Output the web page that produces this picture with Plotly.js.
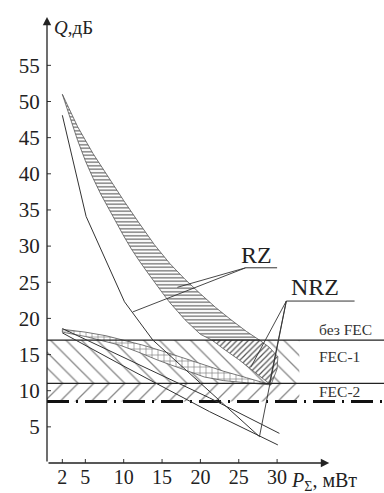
<!DOCTYPE html>
<html><head><meta charset="utf-8">
<script src="https://cdn.plot.ly/plotly-3.0.1.min.js"></script>
<style>html,body{margin:0;padding:0;background:#fff}#c{width:384px;height:493px}</style>
</head><body><div id="c"></div>
<script>
// ---- data ----
const xTicks = [2, 5, 10, 15, 20, 25, 30];
const yTicks = [5, 10, 15, 20, 25, 30, 35, 40, 45, 50, 55];
const levelNames = ['без FEC', 'FEC-1', 'FEC-2'];
const levelQ = [17, 11, 8.5];           // Q thresholds, dB
const fecPmax = 32.9;                    // extent of hatched FEC zones

// RZ band (upper and lower edges)
const rzHiP = [2, 4, 6, 8, 10, 12, 14, 16, 18, 20, 22, 24, 26, 27.7, 29, 30.1, 30.0, 29.2];
const rzHiQ = [51, 46.5, 42.8, 39.5, 36.3, 33.2, 30.2, 27.6, 25.4, 23.4, 21.5, 19.8, 18.2, 17, 16, 14.7, 13, 10.8];
const rzLoP = [2, 3, 4, 5, 6, 7, 8, 9, 10, 11, 12, 13, 14, 15, 16, 17, 18, 19, 20, 21.5, 23, 25, 27, 29.2];
const rzLoQ = [51, 47.8, 44.6, 41.8, 39.4, 37.2, 35.2, 33.3, 31.4, 29.6, 28, 26.5, 25, 23.6, 22.2, 21, 19.8, 18.8, 17.8, 17, 15.8, 14.3, 12.6, 10.8];

// NRZ band
const nrzHiP = [2, 5, 7.7, 10, 12.5, 15, 17.5, 20.5, 23, 26, 29.2];
const nrzHiQ = [18.5, 18.1, 17.6, 17.0, 16.3, 15.5, 14.6, 13.6, 12.7, 11.8, 10.8];
const nrzLoP = [2, 5, 9.5, 12, 14.5, 17, 20.5, 23, 26, 29.2];
const nrzLoQ = [18.1, 17.5, 16.3, 15.3, 14.2, 13.2, 11.9, 11.4, 11.1, 10.8];

// thin curves
const rzLineP = [2, 5.1, 10.1, 13.8, 27.7];
const rzLineQ = [48.1, 34.1, 22.3, 17, 3.65];
const nrzLineAP = [2, 14.3, 21.2, 30.3];
const nrzLineAQ = [18.6, 12.4, 9.0, 4.1];
const nrzLineBP = [2, 10, 21.2, 30.1];
const nrzLineBQ = [18.0, 13.4, 7.1, 2.5];

// callouts: label position, underline, leader targets
const rzLabel = {t: 'RZ', p: 27.3, q: 28.8, u0: 25.9, u1: 30.0, uq: 27.0, tp: [17.0, 11.2], tq: [24.3, 20.9]};
const nrzLabel = {t: 'NRZ', p: 35.0, q: 24.3, u0: 31.2, u1: 40.1, uq: 22.4, tp: [26.6, 29.0, 27.7], tq: [13.3, 11.0, 3.65]};

// ---- build ----
const XMAX = 337 / 7.67, YMAX = 453 / 7.23;
const FONT = 'Liberation Serif';
const traces = [];

// FEC zones
function band(q0, q1, shape) {
  traces.push({x: [0, fecPmax, fecPmax, 0, 0], y: [q0, q0, q1, q1, q0], mode: 'lines', fill: 'toself',
    line: {width: 0}, fillcolor: 'rgba(0,0,0,0)',
    fillpattern: {shape: shape, fgcolor: '#888', bgcolor: 'rgba(0,0,0,0)', size: 11, solidity: 0.12},
    hoverinfo: 'skip', showlegend: false});
}
band(levelQ[1], levelQ[0], '\\');
band(levelQ[2], levelQ[1], '/');

// polygon helpers
function poly(hp, hq, lp, lq, keep) {
  const x = [], y = [];
  hp.forEach((p, i) => { if (keep(hq[i])) { x.push(p); y.push(hq[i]); } });
  for (let i = lp.length - 1; i >= 0; i--) if (keep(lq[i])) { x.push(lp[i]); y.push(lq[i]); }
  x.push(x[0]); y.push(y[0]);
  return {x, y};
}
const rzA = poly(rzHiP, rzHiQ, rzLoP, rzLoQ, q => q >= levelQ[0]);
const rzB = poly(rzHiP, rzHiQ, rzLoP, rzLoQ, q => q <= levelQ[0]);
traces.push({x: rzA.x, y: rzA.y, mode: 'lines', fill: 'toself', line: {width: 0.8, color: '#555'},
  fillcolor: 'white', fillpattern: {shape: '-', fgcolor: '#666', bgcolor: 'white', size: 3.5, solidity: 0.35},
  hoverinfo: 'skip', showlegend: false});
traces.push({x: rzB.x, y: rzB.y, mode: 'lines', fill: 'toself', line: {width: 0.8, color: '#555'},
  fillcolor: 'white', fillpattern: {shape: '/', fgcolor: '#555', bgcolor: 'white', size: 4, solidity: 0.3},
  hoverinfo: 'skip', showlegend: false});
const nz = poly(nrzHiP, nrzHiQ, nrzLoP, nrzLoQ, q => true);
traces.push({x: nz.x, y: nz.y, mode: 'lines', fill: 'toself', line: {width: 0.8, color: '#555'},
  fillcolor: 'white', fillpattern: {shape: '+', fgcolor: '#777', bgcolor: 'white', size: 6, solidity: 0.2},
  hoverinfo: 'skip', showlegend: false});

// level lines
traces.push({x: [0, XMAX], y: [levelQ[0], levelQ[0]], mode: 'lines', line: {color: '#222', width: 1.3}, hoverinfo: 'skip', showlegend: false});
traces.push({x: [0, XMAX], y: [levelQ[1], levelQ[1]], mode: 'lines', line: {color: '#222', width: 1.3}, hoverinfo: 'skip', showlegend: false});
traces.push({x: [0, XMAX], y: [levelQ[2], levelQ[2]], mode: 'lines', line: {color: '#111', width: 3, dash: '22px,7px,2px,7px'}, hoverinfo: 'skip', showlegend: false});

// thin curves
[[rzLineP, rzLineQ], [nrzLineAP, nrzLineAQ], [nrzLineBP, nrzLineBQ]].forEach(([p, q]) =>
  traces.push({x: p, y: q, mode: 'lines', line: {color: '#333', width: 1}, hoverinfo: 'skip', showlegend: false}));

// callout leaders
[rzLabel, nrzLabel].forEach(L => {
  traces.push({x: [L.u1, L.u0], y: [L.uq, L.uq], mode: 'lines', line: {color: '#333', width: 1}, hoverinfo: 'skip', showlegend: false});
  L.tp.forEach((p, i) => traces.push({x: [L.u0, p], y: [L.uq, L.tq[i]], mode: 'lines', line: {color: '#333', width: 0.9}, hoverinfo: 'skip', showlegend: false}));
});

const annotations = [];
// axes with arrows
annotations.push({x: 36.8, y: 0, ax: 0, ay: 0, axref: 'x', ayref: 'y', xref: 'x', yref: 'y', text: '', showarrow: true, arrowhead: 2, arrowsize: 1.3, arrowwidth: 1.3, arrowcolor: '#222'});
annotations.push({x: 0, y: 61.7, ax: 0, ay: 0, axref: 'x', ayref: 'y', xref: 'x', yref: 'y', text: '', showarrow: true, arrowhead: 2, arrowsize: 1.3, arrowwidth: 1.3, arrowcolor: '#222'});
annotations.push({x: 0.6, y: 60.3, xref: 'x', yref: 'y', xanchor: 'left', yanchor: 'middle', showarrow: false,
  text: '<i>Q</i>,дБ', font: {family: FONT, size: 19, color: '#222'}});
annotations.push({x: 31.6 / XMAX, y: -18 / 453, xref: 'paper', yref: 'paper', xanchor: 'left', yanchor: 'middle', showarrow: false,
  text: '<i>P</i><sub>Σ</sub>, мВт', font: {family: FONT, size: 20, color: '#222'}});
// level labels
const lvlLabelQ = [18.4, 14.8, 9.9];
levelNames.forEach((t, i) => annotations.push({x: 35.15, y: lvlLabelQ[i], xref: 'x', yref: 'y', xanchor: 'left', yanchor: 'middle',
  showarrow: false, text: t, font: {family: FONT, size: 15.5, color: '#333'}}));
[rzLabel, nrzLabel].forEach(L => annotations.push({x: L.p, y: L.q, xref: 'x', yref: 'y', xanchor: 'center', yanchor: 'middle',
  showarrow: false, text: L.t, font: {family: FONT, size: 24, color: '#222'}}));

// cross ticks
const shapes = [];
yTicks.forEach(v => shapes.push({type: 'line', xref: 'x', yref: 'y', xsizemode: 'pixel', xanchor: 0, x0: -3, x1: 4, y0: v, y1: v, line: {color: '#333', width: 1}}));
xTicks.forEach(v => shapes.push({type: 'line', xref: 'x', yref: 'y', ysizemode: 'pixel', yanchor: 0, y0: -5, y1: 4, x0: v, x1: v, line: {color: '#333', width: 1}}));

const layout = {
  width: 384, height: 493, margin: {l: 47, r: 0, t: 10, b: 30},
  paper_bgcolor: 'white', plot_bgcolor: 'white', showlegend: false,
  xaxis: {range: [0, XMAX], showgrid: false, zeroline: false, showline: false, tickvals: xTicks, ticktext: xTicks.map(String),
    ticks: '', ticklen: 0, tickfont: {family: FONT, size: 20, color: '#222'}},
  yaxis: {range: [0, YMAX], showgrid: false, zeroline: false, showline: false, tickvals: yTicks, ticktext: yTicks.map(String),
    ticks: 'outside', ticklen: 2, tickcolor: 'rgba(0,0,0,0)', tickfont: {family: FONT, size: 21, color: '#222'}},
  annotations: annotations, shapes: shapes
};
Plotly.newPlot('c', traces, layout, {staticPlot: true, displayModeBar: false});
</script></body></html>
